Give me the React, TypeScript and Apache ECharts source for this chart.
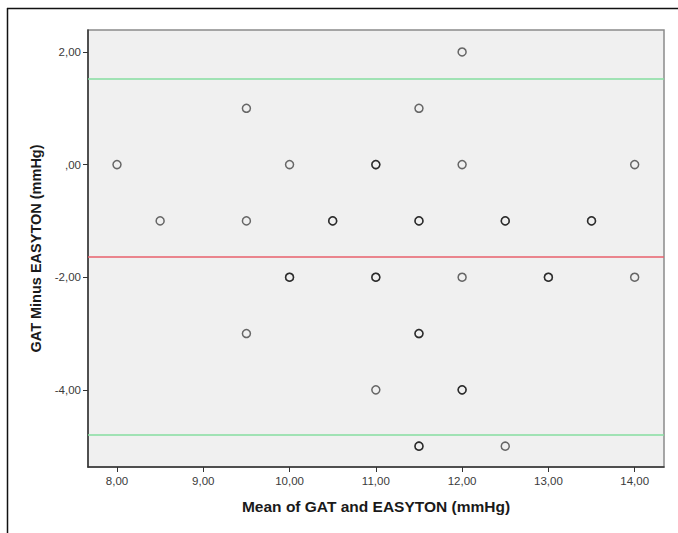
import React, { useEffect, useRef } from "react";
import * as echarts from "echarts";

const meanValues = [
  12,
  9.5, 11.5,
  8, 10, 11, 11, 12, 14,
  8.5, 9.5, 10.5, 10.5, 11.5, 11.5, 12.5, 12.5, 13.5, 13.5,
  10, 10, 11, 11, 12, 13, 13, 14,
  9.5, 11.5, 11.5,
  11, 12, 12,
  11.5, 11.5, 12.5,
];
const diffValues = [
  2,
  1, 1,
  0, 0, 0, 0, 0, 0,
  -1, -1, -1, -1, -1, -1, -1, -1, -1, -1,
  -2, -2, -2, -2, -2, -2, -2, -2,
  -3, -3, -3,
  -4, -4, -4,
  -5, -5, -5,
];
const xTicks = [8, 9, 10, 11, 12, 13, 14];
const yTicks = [-4, -2, 0, 2];
const meanDiff = -1.63;
const upperLimit = 1.53;
const lowerLimit = -4.8;

const fmt = (v: number) => {
  const s = Math.abs(v).toFixed(2).replace(".", ",");
  const t = Math.abs(v) < 1 ? s.replace(/^0/, "") : s;
  return (v < 0 ? "-" : "") + t;
};

export default function App() {
  const ref = useRef<HTMLDivElement>(null);
  useEffect(() => {
    const chart = echarts.init(ref.current!, null, { renderer: "svg" });
    const data = meanValues.map((x, i) => [x, diffValues[i]]);
    chart.setOption({
      animation: false,
      backgroundColor: "#ffffff",
      textStyle: { fontFamily: "Liberation Sans, Arial, sans-serif" },
      grid: {
        left: 88,
        top: 30,
        right: 14,
        bottom: 66,
        show: true,
        backgroundColor: "#f0f0f0",
        borderColor: "#8a8a8a",
        borderWidth: 1.5,
      },
      graphic: [
        { type: "line", shape: { x1: 7.5, y1: 8, x2: 7.5, y2: 533 }, style: { stroke: "#111", lineWidth: 1.5 } },
        { type: "line", shape: { x1: 7, y1: 8.5, x2: 678, y2: 8.5 }, style: { stroke: "#111", lineWidth: 1.5 } },
      ],
      xAxis: {
        type: "value",
        min: 7.664,
        max: 14.34,
        name: "Mean of GAT and EASYTON (mmHg)",
        nameLocation: "middle",
        nameGap: 31,
        nameTextStyle: { fontSize: 15.5, fontWeight: "bold", color: "#1a1a1a", fontFamily: "Liberation Sans, Arial, sans-serif" },
        axisLine: { show: true, onZero: false, lineStyle: { color: "#333", width: 1.5 } },
        axisTick: { show: true, length: 5, customValues: xTicks, lineStyle: { color: "#333" } },
        axisLabel: { customValues: xTicks, formatter: (v: number) => fmt(v), fontSize: 11.5, color: "#3a3a3a", margin: 8 },
        splitLine: { show: false },
      },
      yAxis: {
        type: "value",
        min: -5.37,
        max: 2.39,
        name: "GAT Minus EASYTON (mmHg)",
        nameLocation: "middle",
        nameGap: 44,
        nameRotate: 90,
        nameTextStyle: { fontSize: 14.5, fontWeight: "bold", color: "#1a1a1a", fontFamily: "Liberation Sans, Arial, sans-serif" },
        axisLine: { show: true, onZero: false, lineStyle: { color: "#333", width: 1.5 } },
        axisTick: { show: true, length: 5, customValues: yTicks, lineStyle: { color: "#333" } },
        axisLabel: { customValues: yTicks, formatter: (v: number) => fmt(v), fontSize: 11.5, color: "#3a3a3a", margin: 7 },
        splitLine: { show: false },
      },
      series: [
        {
          type: "scatter",
          data,
          symbol: "circle",
          symbolSize: 8,
          itemStyle: { color: "rgba(0,0,0,0)", borderColor: "rgba(0,0,0,0.72)", borderWidth: 1.5 },
          markLine: {
            silent: true,
            symbol: ["none", "none"],
            label: { show: false },
            data: [
              { yAxis: upperLimit, lineStyle: { color: "#86dea0", width: 1.5, type: "solid" } },
              { yAxis: meanDiff, lineStyle: { color: "#e8606c", width: 1.5, type: "solid" } },
              { yAxis: lowerLimit, lineStyle: { color: "#86dea0", width: 1.5, type: "solid" } },
            ],
          },
        },
      ],
    });
    return () => chart.dispose();
  }, []);
  return <div ref={ref} style={{ width: 678, height: 533, position: "absolute", left: 0, top: 0 }} />;
}
